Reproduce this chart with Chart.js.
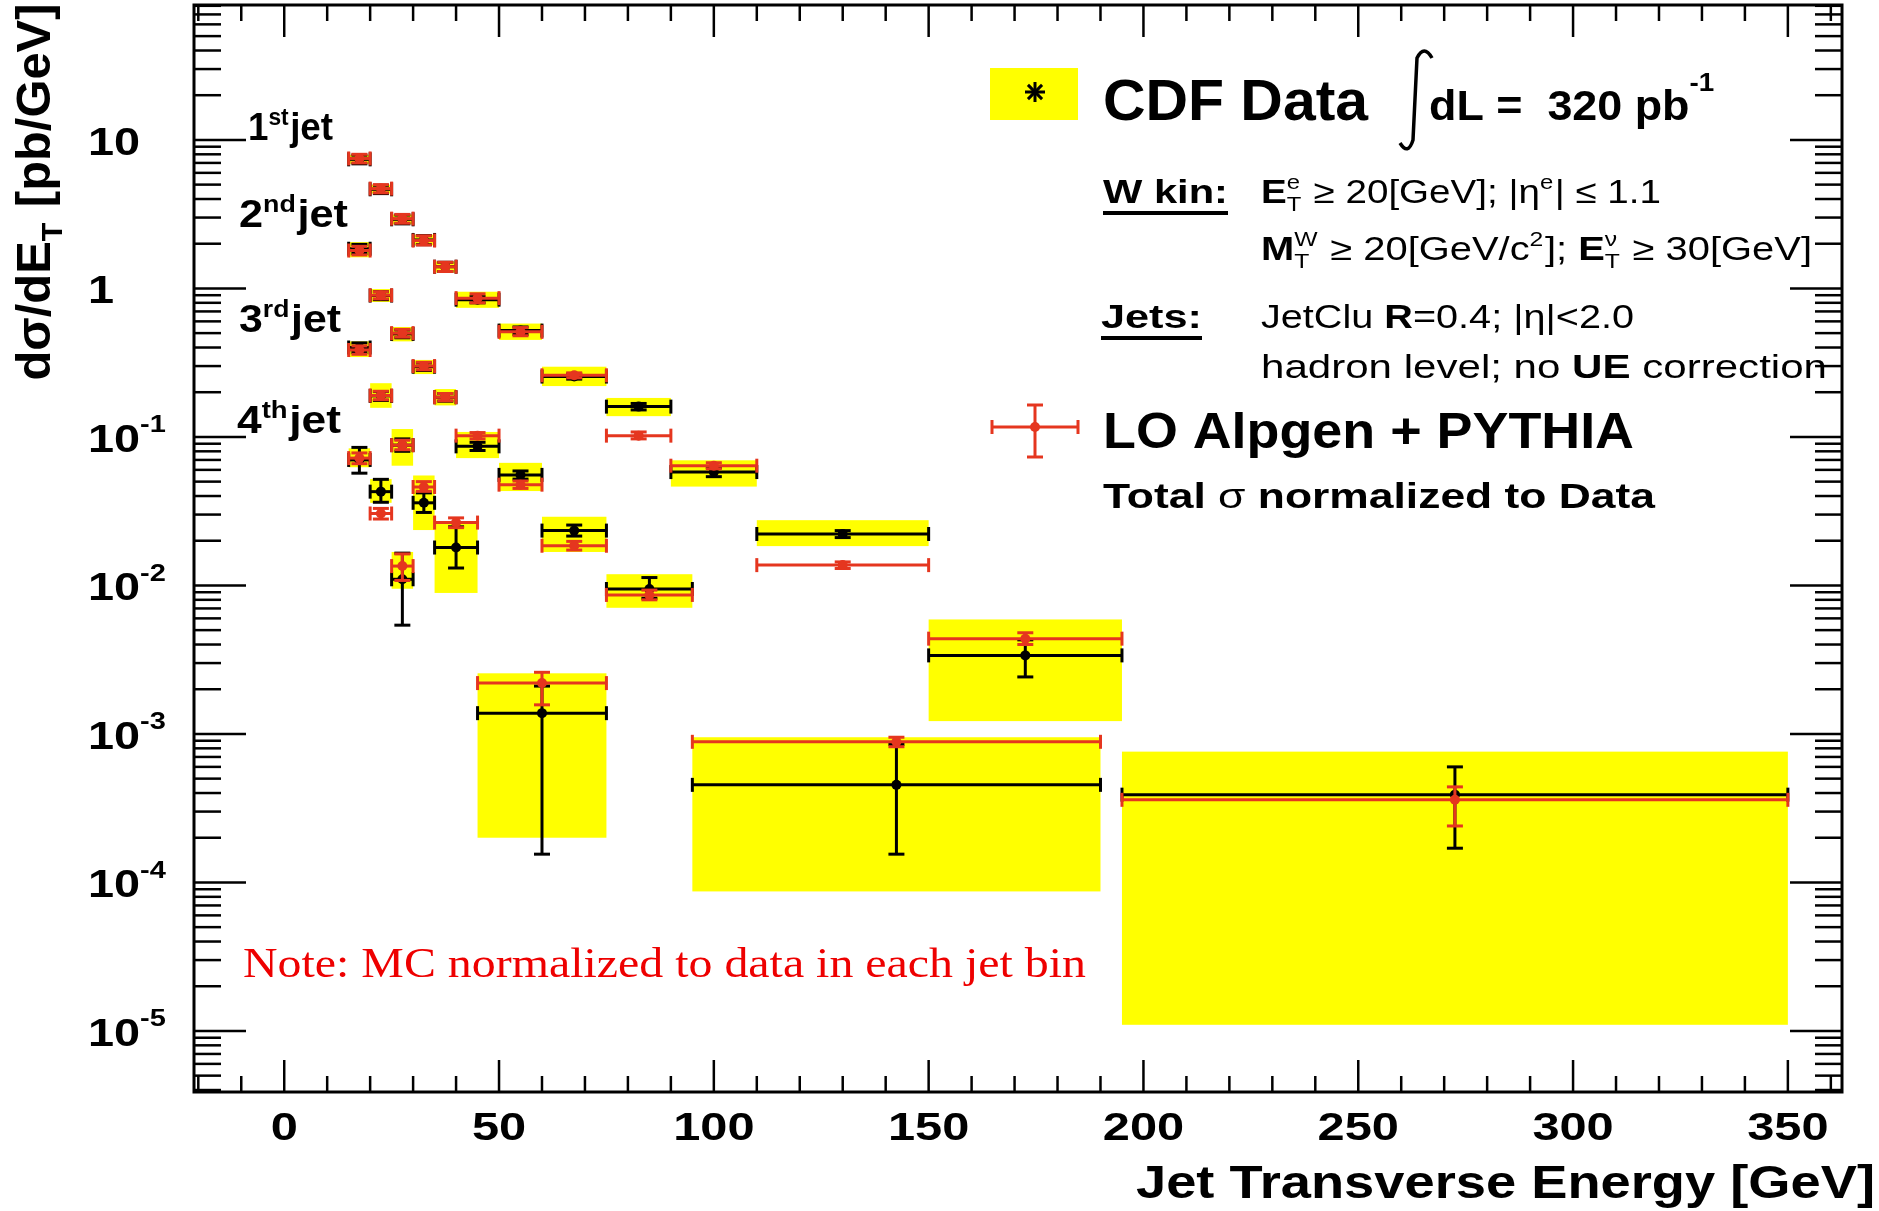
<!DOCTYPE html>
<html>
<head>
<meta charset="utf-8">
<title>Jet transverse energy spectra</title>
<script src="https://cdn.jsdelivr.net/npm/chart.js@4.4.1/dist/chart.umd.min.js"></script>
<style>
  html, body { margin: 0; padding: 0; background: #fff; }
  canvas { display: block; }
</style>
</head>
<body>
<canvas id="etChart" width="1879" height="1211"></canvas>
<script>
// bin edges [GeV] for each jet
const jet1Edges = [15, 20, 25, 30, 35, 40, 50, 60, 75, 90, 110, 150, 195, 350];
const jet2Edges = [15, 20, 25, 30, 35, 40, 50, 60, 75, 95, 190];
const jet3Edges = [15, 20, 25, 30, 35, 45, 75];
const jet4Edges = [15, 20, 25, 30];

// CDF data, dsigma/dET [pb/GeV]
const jet1Data = [7.4, 4.65, 2.92, 2.12, 1.40, 0.84, 0.52, 0.255, 0.16, 0.058, 0.0222, 0.00338, 0.00039];
const jet2Data = [1.85, 0.895, 0.494, 0.297, 0.185, 0.0864, 0.0555, 0.0234, 0.00946, 0.000454];
const jet3Data = [0.40, 0.189, 0.088, 0.036, 0.018, 0.00138];
const jet4Data = [0.07, 0.0428, 0.011];

// statistical error band [low, high]
const jet1DataErr = [[6.9, 7.9], [4.35, 4.95], [2.72, 3.12], [1.97, 2.27], [1.30, 1.50], [0.80, 0.88], [0.49, 0.55],
  [0.245, 0.265], [0.152, 0.168], [0.054, 0.062], [0.021, 0.0234], [0.00242, 0.0043], [0.00017, 0.0006]];
const jet2DataErr = [[1.72, 1.98], [0.84, 0.95], [0.465, 0.525], [0.28, 0.315], [0.174, 0.196], [0.081, 0.092],
  [0.052, 0.059], [0.0215, 0.0255], [0.0082, 0.0113], [0.000155, 0.00085]];
const jet3DataErr = [[0.37, 0.43], [0.176, 0.202], [0.080, 0.097], [0.031, 0.042], [0.0131, 0.0248], [0.000155, 0.0021]];
const jet4DataErr = [[0.057, 0.085], [0.0363, 0.0518], [0.0054, 0.0165]];

// systematic band (yellow) [low, high]
const jet1Sys = [[6.9, 7.95], [4.35, 5.0], [2.7, 3.15], [1.95, 2.3], [1.28, 1.52], [0.74, 0.95], [0.45, 0.58],
  [0.22, 0.297], [0.138, 0.183], [0.0463, 0.0696], [0.0184, 0.0275], [0.00122, 0.0059], [1.1e-5, 0.00076]];
const jet2Sys = [[1.62, 2.05], [0.81, 0.99], [0.44, 0.55], [0.265, 0.33], [0.163, 0.21], [0.072, 0.108],
  [0.0432, 0.0669], [0.0168, 0.029], [0.00707, 0.0119], [8.7e-5, 0.00095]];
const jet3Sys = [[0.345, 0.44], [0.157, 0.23], [0.064, 0.113], [0.0236, 0.055], [0.0089, 0.0263], [0.0002, 0.00256]];
const jet4Sys = [[0.0625, 0.0838], [0.036, 0.052], [0.0095, 0.0168]];

// LO Alpgen + PYTHIA
const jet1Mc = [7.5, 4.7, 2.95, 2.1, 1.40, 0.86, 0.51, 0.26, 0.102, 0.064, 0.0137, 0.00438, 0.00036];
const jet2Mc = [1.8, 0.9, 0.5, 0.30, 0.185, 0.102, 0.0477, 0.0185, 0.00863, 0.000885];
const jet3Mc = [0.385, 0.19, 0.088, 0.046, 0.0265, 0.0022];
const jet4Mc = [0.072, 0.0305, 0.0135];

const jet1McErr = [[7.0, 8.0], [4.4, 5.0], [2.75, 3.15], [1.96, 2.26], [1.30, 1.50], [0.80, 0.92], [0.48, 0.545],
  [0.25, 0.27], [0.097, 0.108], [0.061, 0.067], [0.013, 0.0144], [0.0040, 0.0048], [0.00024, 0.00044]];
const jet2McErr = [[1.68, 1.92], [0.85, 0.95], [0.47, 0.53], [0.283, 0.318], [0.175, 0.196], [0.097, 0.107],
  [0.045, 0.0505], [0.0173, 0.0198], [0.0080, 0.0093], [0.00082, 0.00095]];
const jet3McErr = [[0.36, 0.41], [0.178, 0.203], [0.082, 0.095], [0.043, 0.050], [0.0245, 0.0285], [0.00157, 0.0026]];
const jet4McErr = [[0.066, 0.078], [0.028, 0.033], [0.0108, 0.0163]];

// axis ticks
const xTickValues = [0, 50, 100, 150, 200, 250, 300, 350];
const yTickExponents = [-5, -4, -3, -2, -1, 0, 1];
const jetLabels = [['1', 'st'], ['2', 'nd'], ['3', 'rd'], ['4', 'th']];

const RED = '#e5361f';
const YELLOW = '#ffff00';
const SANS = '"Liberation Sans", Arial, Helvetica, sans-serif';

function centers(edges) {
  return edges.slice(0, -1).map((e, i) => (e + edges[i + 1]) / 2);
}

function series(edges, vals, errs, sys, kind) {
  const c = centers(edges);
  const isData = kind === 'data';
  return {
    label: kind,
    data: vals.map((v, i) => ({ x: c[i], y: v })),
    edges: edges,
    err: errs,
    sys: sys,
    lineColor: isData ? '#000' : RED,
    backgroundColor: isData ? '#000' : RED,
    borderWidth: 0,
    pointRadius: 5,
    pointHoverRadius: 5,
    showLine: false,
    order: isData ? 2 : 1
  };
}

function font(size, bold, family) {
  return (bold ? 'bold ' : '') + size + 'px ' + (family || SANS);
}

// rich text: runs of {t, b} or {sup, sub, b}
function runWidth(ctx, r, size, fam) {
  if (r.t !== undefined) {
    ctx.font = font(size, r.b, fam);
    return ctx.measureText(r.t).width;
  }
  ctx.font = font(size * 0.62, r.b, fam);
  const a = r.sup ? ctx.measureText(r.sup).width : 0;
  const b = r.sub ? ctx.measureText(r.sub).width : 0;
  return Math.max(a, b) + size * 0.04;
}

function drawRuns(ctx, runs, x, y, size, opts) {
  opts = opts || {};
  const fam = opts.family;
  let natural = 0;
  runs.forEach(r => { natural += runWidth(ctx, r, size, fam); });
  const sx = opts.width ? opts.width / natural : (opts.sx || 1);
  let x0 = x;
  if (opts.align === 'right') x0 = x - natural * sx;
  else if (opts.align === 'center') x0 = x - natural * sx / 2;
  ctx.save();
  ctx.translate(x0, y);
  ctx.scale(sx, 1);
  ctx.fillStyle = opts.color || '#000';
  ctx.textBaseline = 'alphabetic';
  ctx.textAlign = 'left';
  let cx = 0;
  runs.forEach(r => {
    const w = runWidth(ctx, r, size, fam);
    if (r.t !== undefined) {
      ctx.font = font(size, r.b, fam);
      ctx.fillText(r.t, cx, 0);
    } else {
      ctx.font = font(size * 0.62, r.b, fam);
      if (r.sup) ctx.fillText(r.sup, cx, -size * (opts.raise || 0.42));
      if (r.sub) ctx.fillText(r.sub, cx, size * 0.24);
    }
    cx += w;
  });
  ctx.restore();
}

function seg(ctx, x1, y1, x2, y2) {
  ctx.beginPath();
  ctx.moveTo(x1, y1);
  ctx.lineTo(x2, y2);
  ctx.stroke();
}

const errorBars = {
  id: 'errorBars',
  beforeDatasetsDraw(chart) {
    const { ctx, chartArea: a, scales: { x, y } } = chart;
    ctx.save();
    ctx.beginPath();
    ctx.rect(a.left, a.top, a.right - a.left, a.bottom - a.top);
    ctx.clip();
    ctx.fillStyle = YELLOW;
    chart.data.datasets.forEach(ds => {
      if (!ds.sys) return;
      ds.sys.forEach((s, i) => {
        const l = x.getPixelForValue(ds.edges[i]);
        const r = x.getPixelForValue(ds.edges[i + 1]);
        const t = y.getPixelForValue(s[1]);
        const b = y.getPixelForValue(s[0]);
        ctx.fillRect(l, t, r - l, b - t);
      });
    });
    ctx.restore();
  },
  beforeDatasetDraw(chart, args) {
    const ds = chart.data.datasets[args.index];
    const { ctx, scales: { x, y } } = chart;
    ctx.save();
    ctx.strokeStyle = ds.lineColor;
    ctx.lineWidth = 3;
    ds.data.forEach((p, i) => {
      const l = x.getPixelForValue(ds.edges[i]);
      const r = x.getPixelForValue(ds.edges[i + 1]);
      const cx = x.getPixelForValue(p.x);
      const cy = y.getPixelForValue(p.y);
      const top = y.getPixelForValue(ds.err[i][1]);
      const bot = y.getPixelForValue(ds.err[i][0]);
      seg(ctx, l, cy, r, cy);
      seg(ctx, l, cy - 7, l, cy + 7);
      seg(ctx, r, cy - 7, r, cy + 7);
      seg(ctx, cx, top, cx, bot);
      seg(ctx, cx - 8, top, cx + 8, top);
      seg(ctx, cx - 8, bot, cx + 8, bot);
    });
    ctx.restore();
  }
};

const axisFrame = {
  id: 'axisFrame',
  afterDraw(chart) {
    const { ctx, chartArea: a, scales: { x, y } } = chart;
    ctx.save();
    ctx.strokeStyle = '#000';

    // ticks on all four sides
    ctx.lineWidth = 2.5;
    for (let v = -20; v <= x.max; v += 10) {
      const px = x.getPixelForValue(v);
      const len = v % 50 === 0 ? 32 : 16;
      seg(ctx, px, a.bottom, px, a.bottom - len);
      seg(ctx, px, a.top, px, a.top + len);
    }
    for (let e = -6; e <= 1; e++) {
      for (let k = 1; k <= 9; k++) {
        const v = k * Math.pow(10, e);
        if (v < y.min || v > y.max) continue;
        const py = y.getPixelForValue(v);
        const len = k === 1 ? 52 : 27;
        seg(ctx, a.left, py, a.left + len, py);
        seg(ctx, a.right, py, a.right - len, py);
      }
    }
    ctx.lineWidth = 3;
    ctx.strokeRect(a.left, a.top, a.right - a.left, a.bottom - a.top);

    // tick labels
    xTickValues.forEach(v => {
      drawRuns(ctx, [{ t: String(v), b: true }], x.getPixelForValue(v), 1140, 39, { align: 'center', sx: 1.25 });
    });
    yTickExponents.forEach(e => {
      const py = y.getPixelForValue(Math.pow(10, e));
      let runs;
      if (e === 0) runs = [{ t: '1', b: true }];
      else if (e === 1) runs = [{ t: '10', b: true }];
      else runs = [{ t: '10', b: true }, { sup: String(e), b: true }];
      drawRuns(ctx, runs, 88, py + 15, 39, { sx: 1.2, raise: 0.5 });
    });

    // axis titles
    drawRuns(ctx, [{ t: 'Jet Transverse Energy [GeV]', b: true }], 1875, 1198, 46, { align: 'right', width: 739 });
    ctx.save();
    ctx.translate(50, 192);
    ctx.rotate(-Math.PI / 2);
    drawRuns(ctx, [{ t: 'dσ/dE', b: true }, { sub: 'T', b: true }, { t: ' [pb/GeV]', b: true }], 0, 0, 48,
      { align: 'center', width: 377 });
    ctx.restore();

    // jet multiplicity labels
    const jetPos = [[248, 140, 85], [239, 227, 109], [239, 332, 102], [237, 433, 104]];
    jetLabels.forEach((jl, i) => {
      const p = jetPos[i];
      drawRuns(ctx, [{ t: jl[0], b: true }, { sup: jl[1], b: true }, { t: 'jet', b: true }], p[0], p[1], 38,
        { width: p[2], raise: 0.4 });
    });

    // legend: data
    ctx.fillStyle = YELLOW;
    ctx.fillRect(990, 68, 88, 52);
    ctx.lineWidth = 3;
    for (let k = 0; k < 4; k++) {
      const ang = k * Math.PI / 4;
      seg(ctx, 1035 - 10 * Math.cos(ang), 92 - 10 * Math.sin(ang), 1035 + 10 * Math.cos(ang), 92 + 10 * Math.sin(ang));
    }
    drawRuns(ctx, [{ t: 'CDF Data', b: true }], 1103, 120, 58, { width: 265 });
    ctx.lineWidth = 3.5;
    ctx.beginPath();
    ctx.moveTo(1432, 58);
    ctx.quadraticCurveTo(1424, 44, 1417, 58);
    ctx.lineTo(1413, 140);
    ctx.quadraticCurveTo(1408, 156, 1400, 143);
    ctx.stroke();
    drawRuns(ctx, [{ t: 'dL =  320 pb', b: true }, { sup: '-1', b: true }], 1429, 120, 42, { width: 287, raise: 0.7 });

    drawRuns(ctx, [{ t: 'W kin:', b: true }], 1103, 203, 33, { width: 125 });
    ctx.lineWidth = 4;
    seg(ctx, 1103, 213, 1228, 213);
    drawRuns(ctx, [{ t: 'E', b: true }, { sub: 'T', sup: 'e' }, { t: ' ≥ 20[GeV]; |η' }, { sup: 'e' }, { t: '| ≤ 1.1' }],
      1261, 203, 33, { width: 400 });
    drawRuns(ctx, [{ t: 'M', b: true }, { sub: 'T', sup: 'W' }, { t: ' ≥ 20[GeV/c' }, { sup: '2' }, { t: ']; ' },
      { t: 'E', b: true }, { sub: 'T', sup: 'ν' }, { t: ' ≥ 30[GeV]' }], 1261, 260, 33, { width: 551 });

    drawRuns(ctx, [{ t: 'Jets:', b: true }], 1101, 328, 33, { width: 101 });
    seg(ctx, 1101, 338, 1202, 338);
    drawRuns(ctx, [{ t: 'JetClu ' }, { t: 'R', b: true }, { t: '=0.4; |η|<2.0' }], 1261, 328, 33, { width: 373 });
    drawRuns(ctx, [{ t: 'hadron level; no ' }, { t: 'UE', b: true }, { t: ' correction' }], 1261, 378, 33, { width: 566 });

    // legend: MC
    ctx.strokeStyle = RED;
    ctx.fillStyle = RED;
    ctx.lineWidth = 3;
    seg(ctx, 992, 427, 1078, 427);
    seg(ctx, 992, 420, 992, 434);
    seg(ctx, 1078, 420, 1078, 434);
    seg(ctx, 1035, 405, 1035, 457);
    seg(ctx, 1027, 405, 1043, 405);
    seg(ctx, 1027, 457, 1043, 457);
    ctx.beginPath();
    ctx.arc(1035, 427, 5, 0, Math.PI * 2);
    ctx.fill();
    drawRuns(ctx, [{ t: 'LO Alpgen + PYTHIA', b: true }], 1103, 448, 50, { width: 531 });
    drawRuns(ctx, [{ t: 'Total ', b: true }, { t: 'σ' }, { t: ' normalized to Data', b: true }], 1103, 508, 35, { width: 552 });

    drawRuns(ctx, [{ t: 'Note: MC normalized to data in each jet bin' }], 243, 977, 42,
      { width: 843, color: '#ee0000', family: '"Liberation Serif", "Times New Roman", serif' });
    ctx.restore();
  }
};

const ctx = document.getElementById('etChart').getContext('2d');

const chart = new Chart(ctx, {
  type: 'scatter',
  data: {
    datasets: [
      series(jet1Edges, jet1Data, jet1DataErr, jet1Sys, 'data'),
      series(jet2Edges, jet2Data, jet2DataErr, jet2Sys, 'data'),
      series(jet3Edges, jet3Data, jet3DataErr, jet3Sys, 'data'),
      series(jet4Edges, jet4Data, jet4DataErr, jet4Sys, 'data'),
      series(jet1Edges, jet1Mc, jet1McErr, null, 'mc'),
      series(jet2Edges, jet2Mc, jet2McErr, null, 'mc'),
      series(jet3Edges, jet3Mc, jet3McErr, null, 'mc'),
      series(jet4Edges, jet4Mc, jet4McErr, null, 'mc')
    ]
  },
  options: {
    responsive: false,
    animation: false,
    devicePixelRatio: 1,
    layout: { padding: { top: 5, right: 37, left: 0, bottom: 0 } },
    plugins: { legend: { display: false }, tooltip: { enabled: false } },
    events: [],
    scales: {
      x: {
        type: 'linear',
        min: -21,
        max: 362.6,
        grid: { display: false },
        border: { display: false },
        ticks: { display: false },
        afterFit: s => { s.height = 119; }
      },
      y: {
        type: 'logarithmic',
        min: 3.88e-6,
        max: 81,
        grid: { display: false },
        border: { display: false },
        ticks: { display: false },
        afterFit: s => { s.width = 194; }
      }
    }
  },
  plugins: [errorBars, axisFrame]
});
</script>
</body>
</html>
